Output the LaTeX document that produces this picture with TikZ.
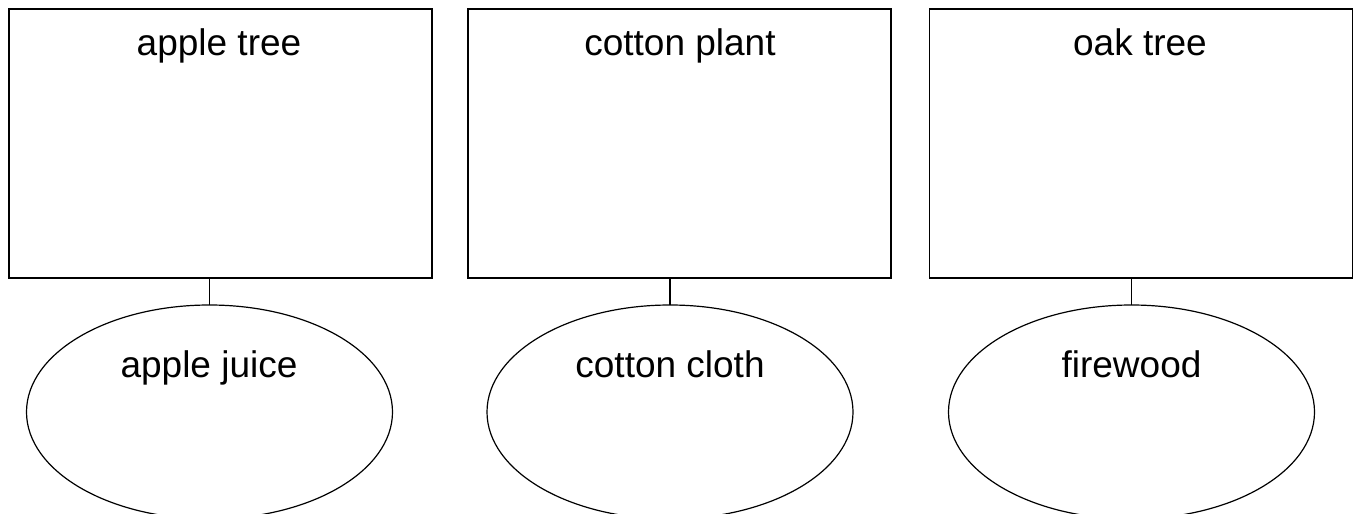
\documentclass[tikz,border=0pt]{standalone}
\usepackage{fontspec}
\setmainfont{Liberation Sans}
\usetikzlibrary{shapes.geometric}
\begin{document}
\begin{tikzpicture}[x=1pt,y=-1pt,
  box/.style={draw=black,line width=1.2pt,rectangle,minimum width=423pt,minimum height=269pt,inner sep=0pt,outer sep=0pt},
  ell/.style={draw=black,line width=1.2pt,ellipse,minimum width=366pt,minimum height=214pt,inner sep=0pt,outer sep=0pt},
  lab/.style={anchor=base,inner sep=0pt,font=\fontsize{37}{42}\selectfont},
  link/.style={draw=black,line width=1.2pt}]
\useasboundingbox (0,0) rectangle (1363,514);
\clip (0,0) rectangle (1363,514);
\fill[white] (0,0) rectangle (1363,514);
% boxes
\node[box] (r1) at (220.5,143.5) {};
\node[box] (r2) at (679.5,143.5) {};
\node[box] (r3) at (1141,143.5) {};
\node[lab] (t1) at (219,55) {apple tree};
\node[lab] (t2) at (680,55) {cotton plant};
\node[lab] (t3) at (1140,55) {oak tree};
% ellipses
\node[ell] (e1) at (209.5,412) {};
\node[ell] (e2) at (670,412) {};
\node[ell] (e3) at (1131.5,412) {};
\node[lab] (u1) at (209,377) {apple juice};
\node[lab] (u2) at (670,377) {cotton cloth};
\node[lab] (u3) at (1131.5,377) {firewood};
% connectors
\draw[link] (r1.south -| e1.north) -- (e1.north);
\draw[link] (r2.south -| e2.north) -- (e2.north);
\draw[link] (r3.south -| e3.north) -- (e3.north);
\end{tikzpicture}
\end{document}
